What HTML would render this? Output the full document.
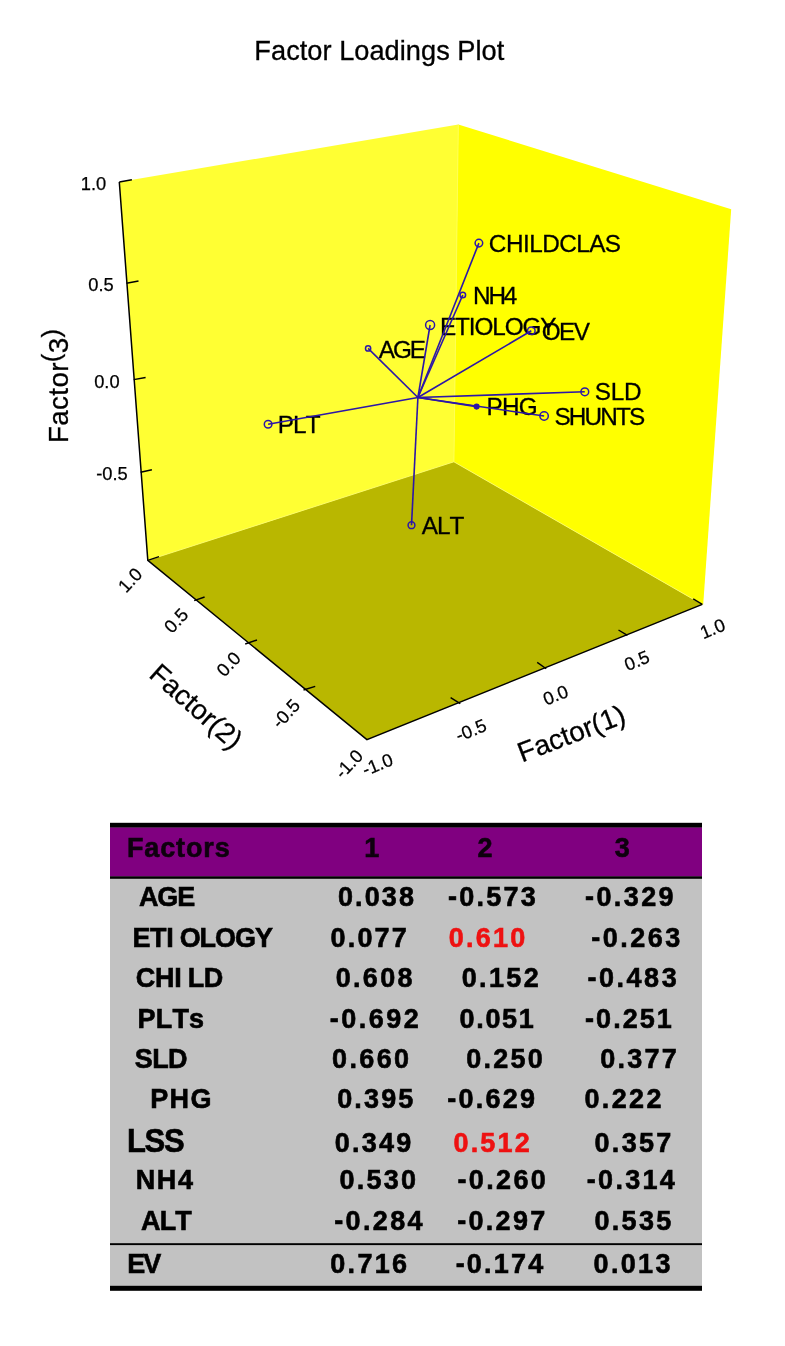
<!DOCTYPE html>
<html lang="en">
<head>
<meta charset="utf-8">
<title>Factor Loadings Plot</title>
<style>
html,body{margin:0;padding:0;background:#fff;}
body{width:785px;height:1346px;overflow:hidden;font-family:"Liberation Sans",Arial,Helvetica,sans-serif;}
svg{display:block;}
svg text{font-family:"Liberation Sans",Arial,Helvetica,sans-serif;font-kerning:none;white-space:pre;}
</style>
</head>
<body>
<svg width="785" height="1346" viewBox="0 0 785 1346">
<rect width="785" height="1346" fill="#fff"/>
<g id="plot" stroke-width="0.3">
<polygon points="119.3,182.0 458.3,124.5 453.9,461.8 147.8,560.3" fill="#ffff33"/>
<polygon points="458.3,124.5 731.2,209.2 703.2,604.6 702.3,604.4 453.9,461.8" fill="#ffff00"/>
<polygon points="147.8,560.3 453.9,461.8 702.3,604.4 366.9,739.7" fill="#b9b700"/>
<path d="M147.8,560.3 L453.9,461.8 L702.3,604.4" fill="none" stroke="#ffff66" stroke-width="0.9"/>
<path d="M458.3,124.5 L453.9,461.8" fill="none" stroke="#ffff55" stroke-width="1"/>
<path d="M119.3,182.0 L147.8,560.3 L366.9,739.7 L702.3,604.4" fill="none" stroke="#000" stroke-width="1.5" stroke-linejoin="miter"/>
<line x1="119.3" y1="182.0" x2="131.9" y2="179.8" stroke="#000" stroke-width="1.4"/>
<line x1="126.5" y1="283.2" x2="138.5" y2="281.0" stroke="#000" stroke-width="1.4"/>
<line x1="133.7" y1="379.6" x2="145.6" y2="377.5" stroke="#000" stroke-width="1.4"/>
<line x1="140.6" y1="472.3" x2="151.9" y2="469.8" stroke="#000" stroke-width="1.4"/>
<line x1="147.8" y1="560.3" x2="159.0" y2="556.7" stroke="#000" stroke-width="1.4"/>
<line x1="194.2" y1="600.6" x2="204.6" y2="597.0" stroke="#000" stroke-width="1.4"/>
<line x1="245.2" y1="644.0" x2="257.0" y2="640.0" stroke="#000" stroke-width="1.4"/>
<line x1="303.5" y1="690.0" x2="315.2" y2="686.3" stroke="#000" stroke-width="1.4"/>
<line x1="460.3" y1="703.7" x2="450.6" y2="697.6" stroke="#000" stroke-width="1.4"/>
<line x1="546.2" y1="668.8" x2="537.2" y2="662.4" stroke="#000" stroke-width="1.4"/>
<line x1="627.4" y1="635.4" x2="618.5" y2="630.0" stroke="#000" stroke-width="1.4"/>
<line x1="702.3" y1="604.4" x2="693.2" y2="598.8" stroke="#000" stroke-width="1.4"/>
<text x="488.87" y="252.10000000000002" font-size="24.3" letter-spacing="-0.52" stroke="#000" stroke-width="0.3">CHILDCLAS</text>
<text x="473.01" y="303.8" font-size="24.3" letter-spacing="-2.15" stroke="#000" stroke-width="0.3">NH4</text>
<text x="440.01" y="334.5" font-size="24.3" letter-spacing="-1.11" stroke="#000" stroke-width="0.3">ETIOLOGY</text>
<text x="541.75" y="339.8" font-size="24.3" letter-spacing="-1.58" stroke="#000" stroke-width="0.3">OEV</text>
<text x="378.85" y="358.1" font-size="24.3" letter-spacing="-2.06" stroke="#000" stroke-width="0.3">AGE</text>
<text x="594.70" y="400.3" font-size="24.3" letter-spacing="-0.20" stroke="#000" stroke-width="0.3">SLD</text>
<text x="486.51" y="415.1" font-size="24.3" letter-spacing="-0.72" stroke="#000" stroke-width="0.3">PHG</text>
<text x="554.40" y="424.5" font-size="24.3" letter-spacing="-1.80" stroke="#000" stroke-width="0.3">SHUNTS</text>
<text x="277.71" y="433.2" font-size="24.3" letter-spacing="-0.81" stroke="#000" stroke-width="0.3">PLT</text>
<text x="421.85" y="534.0999999999999" font-size="24.3" letter-spacing="-1.03" stroke="#000" stroke-width="0.3">ALT</text>
<line x1="417.9" y1="397.5" x2="478.9" y2="243.1" stroke="#2c16a8" stroke-width="1.6"/>
<line x1="417.9" y1="397.5" x2="462.8" y2="295.0" stroke="#2c16a8" stroke-width="1.6"/>
<line x1="417.9" y1="397.5" x2="430.1" y2="325.0" stroke="#2c16a8" stroke-width="1.6"/>
<line x1="417.9" y1="397.5" x2="531.3" y2="330.8" stroke="#2c16a8" stroke-width="1.6"/>
<line x1="417.9" y1="397.5" x2="368.1" y2="348.4" stroke="#2c16a8" stroke-width="1.6"/>
<line x1="417.9" y1="397.5" x2="584.8" y2="391.8" stroke="#2c16a8" stroke-width="1.6"/>
<line x1="417.9" y1="397.5" x2="476.6" y2="406.6" stroke="#2c16a8" stroke-width="1.6"/>
<line x1="417.9" y1="397.5" x2="544.1" y2="416.0" stroke="#2c16a8" stroke-width="1.6"/>
<line x1="417.9" y1="397.5" x2="268.1" y2="424.3" stroke="#2c16a8" stroke-width="1.6"/>
<line x1="417.9" y1="397.5" x2="411.5" y2="525.2" stroke="#2c16a8" stroke-width="1.6"/>
<circle cx="478.9" cy="243.1" r="3.8" fill="none" stroke="#2c16a8" stroke-width="1.5"/>
<circle cx="462.8" cy="295.0" r="2.8" fill="none" stroke="#2c16a8" stroke-width="1.5"/>
<circle cx="430.1" cy="325.0" r="4.5" fill="none" stroke="#2c16a8" stroke-width="1.5"/>
<circle cx="531.3" cy="330.8" r="3.8" fill="none" stroke="#2c16a8" stroke-width="1.5"/>
<circle cx="368.1" cy="348.4" r="2.6" fill="none" stroke="#2c16a8" stroke-width="1.5"/>
<circle cx="584.8" cy="391.8" r="3.9" fill="none" stroke="#2c16a8" stroke-width="1.5"/>
<circle cx="476.6" cy="406.6" r="2.3" fill="#2c16a8" stroke="#2c16a8" stroke-width="1.5"/>
<circle cx="544.1" cy="416.0" r="4.2" fill="none" stroke="#2c16a8" stroke-width="1.5"/>
<circle cx="268.1" cy="424.3" r="3.8" fill="none" stroke="#2c16a8" stroke-width="1.5"/>
<circle cx="411.5" cy="525.2" r="3.4" fill="none" stroke="#2c16a8" stroke-width="1.5"/>
<text x="254.37" y="59.8" font-size="27.2" letter-spacing="0.03" stroke="#000">Factor Loadings Plot</text>
<text x="80.78" y="189.6" font-size="18.3" stroke="#000" stroke-width="0.25">1.0</text>
<text x="88.33" y="290.8" font-size="18.3" stroke="#000" stroke-width="0.25">0.5</text>
<text x="94.18" y="387.8" font-size="18.3" stroke="#000" stroke-width="0.25">0.0</text>
<text x="96.23" y="480.0" font-size="18.3" stroke="#000" stroke-width="0.25">-0.5</text>
<text x="130.0" y="586.55" font-size="18.3" stroke="#000" stroke-width="0.25" text-anchor="middle" transform="rotate(-47 130.0 580.0)">1.0</text>
<text x="176.0" y="627.05" font-size="18.3" stroke="#000" stroke-width="0.25" text-anchor="middle" transform="rotate(-47 176.0 620.5)">0.5</text>
<text x="228.5" y="670.55" font-size="18.3" stroke="#000" stroke-width="0.25" text-anchor="middle" transform="rotate(-47 228.5 664.0)">0.0</text>
<text x="285.7" y="719.95" font-size="18.3" stroke="#000" stroke-width="0.25" text-anchor="middle" transform="rotate(-47 285.7 713.4)">-0.5</text>
<text x="348.6" y="770.35" font-size="18.3" stroke="#000" stroke-width="0.25" text-anchor="middle" transform="rotate(-47 348.6 763.8)">-1.0</text>
<text x="377.4" y="770.85" font-size="18.3" stroke="#000" stroke-width="0.25" text-anchor="middle" transform="rotate(-22 377.4 764.3)">-1.0</text>
<text x="471.0" y="736.55" font-size="18.3" stroke="#000" stroke-width="0.25" text-anchor="middle" transform="rotate(-22 471.0 730.0)">-0.5</text>
<text x="555.5" y="701.35" font-size="18.3" stroke="#000" stroke-width="0.25" text-anchor="middle" transform="rotate(-22 555.5 694.8)">0.0</text>
<text x="636.8" y="666.95" font-size="18.3" stroke="#000" stroke-width="0.25" text-anchor="middle" transform="rotate(-22 636.8 660.4)">0.5</text>
<text x="712.5" y="634.95" font-size="18.3" stroke="#000" stroke-width="0.25" text-anchor="middle" transform="rotate(-22 712.5 628.4)">1.0</text>
<text x="65.72" y="440.8" font-size="27.8" letter-spacing="0.35" stroke="#000" transform="rotate(-90 68.0 440.8)">Factor<tspan dy="-8" font-size="25.5">(</tspan><tspan dy="8">3</tspan><tspan dy="-8" font-size="25.5">)</tspan></text>
<text x="147.12" y="677.7" font-size="27.8" stroke="#000" transform="rotate(41.5 149.4 677.7)">Factor(2)</text>
<text x="521.92" y="761.8" font-size="27.8" stroke="#000" transform="rotate(-21 524.2 761.8)">Factor(1)</text>
</g>
<g id="table">
<rect x="110.0" y="822.8" width="592.0" height="5" fill="#000"/>
<rect x="110.0" y="827.6" width="592.0" height="49" fill="#800080"/>
<rect x="110.0" y="876.3" width="592.0" height="2.6" fill="#000"/>
<rect x="110.0" y="878.9" width="592.0" height="407.2" fill="#c2c2c2"/>
<rect x="110.0" y="1243.2" width="592.0" height="1.9" fill="#000"/>
<rect x="110.0" y="1285.8" width="592.0" height="5" fill="#000"/>
<text x="126.89" y="0" transform="matrix(1 0 0 1.045 0 857.3)" font-size="27.0" font-weight="bold" fill="#0e000e" stroke="#0e000e" stroke-width="0.6" letter-spacing="0.88">Factors</text>
<text x="364.20" y="0" transform="matrix(1 0 0 1.045 0 857.2)" font-size="27.0" font-weight="bold" fill="#0e000e" stroke="#0e000e" stroke-width="0.6" letter-spacing="0.00">1</text>
<text x="477.46" y="0" transform="matrix(1 0 0 1.045 0 857.2)" font-size="27.0" font-weight="bold" fill="#0e000e" stroke="#0e000e" stroke-width="0.6" letter-spacing="0.00">2</text>
<text x="614.78" y="0" transform="matrix(1 0 0 1.045 0 857.2)" font-size="27.0" font-weight="bold" fill="#0e000e" stroke="#0e000e" stroke-width="0.6" letter-spacing="0.00">3</text>
<text x="139.13" y="0" transform="matrix(1 0 0 1.045 0 906.0)" font-size="27.0" font-weight="bold" fill="#000" stroke="#000" stroke-width="0.6" letter-spacing="-1.24">AGE</text>
<text x="337.93" y="0" transform="matrix(1 0 0 1.045 0 906.0)" font-size="27.0" font-weight="bold" fill="#000" stroke="#000" stroke-width="0.6" letter-spacing="2.13">0.038</text>
<text x="447.95" y="0" transform="matrix(1 0 0 1.045 0 906.0)" font-size="27.0" font-weight="bold" fill="#000" stroke="#000" stroke-width="0.6" letter-spacing="2.27">-0.573</text>
<text x="585.05" y="0" transform="matrix(1 0 0 1.045 0 906.0)" font-size="27.0" font-weight="bold" fill="#000" stroke="#000" stroke-width="0.6" letter-spacing="2.40">-0.329</text>
<text x="330.53" y="0" transform="matrix(1 0 0 1.045 0 946.6)" font-size="27.0" font-weight="bold" fill="#000" stroke="#000" stroke-width="0.6" letter-spacing="2.17">0.077</text>
<text x="448.83" y="0" transform="matrix(1 0 0 1.045 0 946.6)" font-size="27.0" font-weight="bold" fill="#ee1111" stroke="#ee1111" stroke-width="0.6" letter-spacing="2.23">0.610</text>
<text x="591.15" y="0" transform="matrix(1 0 0 1.045 0 946.6)" font-size="27.0" font-weight="bold" fill="#000" stroke="#000" stroke-width="0.6" letter-spacing="2.51">-0.263</text>
<text x="335.73" y="0" transform="matrix(1 0 0 1.045 0 987.0)" font-size="27.0" font-weight="bold" fill="#000" stroke="#000" stroke-width="0.6" letter-spacing="2.31">0.608</text>
<text x="461.73" y="0" transform="matrix(1 0 0 1.045 0 987.0)" font-size="27.0" font-weight="bold" fill="#000" stroke="#000" stroke-width="0.6" letter-spacing="2.37">0.152</text>
<text x="587.45" y="0" transform="matrix(1 0 0 1.045 0 987.0)" font-size="27.0" font-weight="bold" fill="#000" stroke="#000" stroke-width="0.6" letter-spacing="2.53">-0.483</text>
<text x="137.49" y="0" transform="matrix(1 0 0 1.045 0 1027.6)" font-size="27.0" font-weight="bold" fill="#000" stroke="#000" stroke-width="0.6" letter-spacing="0.20">PLTs</text>
<text x="329.65" y="0" transform="matrix(1 0 0 1.045 0 1027.6)" font-size="27.0" font-weight="bold" fill="#000" stroke="#000" stroke-width="0.6" letter-spacing="2.54">-0.692</text>
<text x="459.53" y="0" transform="matrix(1 0 0 1.045 0 1027.6)" font-size="27.0" font-weight="bold" fill="#000" stroke="#000" stroke-width="0.6" letter-spacing="1.69">0.051</text>
<text x="585.05" y="0" transform="matrix(1 0 0 1.045 0 1027.6)" font-size="27.0" font-weight="bold" fill="#000" stroke="#000" stroke-width="0.6" letter-spacing="2.05">-0.251</text>
<text x="134.72" y="0" transform="matrix(1 0 0 1.045 0 1068.4)" font-size="27.0" font-weight="bold" fill="#000" stroke="#000" stroke-width="0.6" letter-spacing="-0.59">SLD</text>
<text x="332.03" y="0" transform="matrix(1 0 0 1.045 0 1068.4)" font-size="27.0" font-weight="bold" fill="#000" stroke="#000" stroke-width="0.6" letter-spacing="2.38">0.660</text>
<text x="466.33" y="0" transform="matrix(1 0 0 1.045 0 1068.4)" font-size="27.0" font-weight="bold" fill="#000" stroke="#000" stroke-width="0.6" letter-spacing="2.20">0.250</text>
<text x="600.33" y="0" transform="matrix(1 0 0 1.045 0 1068.4)" font-size="27.0" font-weight="bold" fill="#000" stroke="#000" stroke-width="0.6" letter-spacing="2.25">0.377</text>
<text x="150.19" y="0" transform="matrix(1 0 0 1.045 0 1108.2)" font-size="27.0" font-weight="bold" fill="#000" stroke="#000" stroke-width="0.6" letter-spacing="1.44">PHG</text>
<text x="337.23" y="0" transform="matrix(1 0 0 1.045 0 1108.2)" font-size="27.0" font-weight="bold" fill="#000" stroke="#000" stroke-width="0.6" letter-spacing="2.14">0.395</text>
<text x="447.35" y="0" transform="matrix(1 0 0 1.045 0 1108.2)" font-size="27.0" font-weight="bold" fill="#000" stroke="#000" stroke-width="0.6" letter-spacing="2.22">-0.629</text>
<text x="584.43" y="0" transform="matrix(1 0 0 1.045 0 1108.2)" font-size="27.0" font-weight="bold" fill="#000" stroke="#000" stroke-width="0.6" letter-spacing="2.37">0.222</text>
<text x="127.03" y="0" transform="matrix(1 0 0 1.045 0 1151.8)" font-size="31.0" font-weight="bold" fill="#000" stroke="#000" stroke-width="0.6" letter-spacing="-1.35">LSS</text>
<text x="334.83" y="0" transform="matrix(1 0 0 1.045 0 1151.8)" font-size="27.0" font-weight="bold" fill="#000" stroke="#000" stroke-width="0.6" letter-spacing="2.20">0.349</text>
<text x="453.43" y="0" transform="matrix(1 0 0 1.045 0 1151.8)" font-size="27.0" font-weight="bold" fill="#ee1111" stroke="#ee1111" stroke-width="0.6" letter-spacing="2.22">0.512</text>
<text x="594.53" y="0" transform="matrix(1 0 0 1.045 0 1151.8)" font-size="27.0" font-weight="bold" fill="#000" stroke="#000" stroke-width="0.6" letter-spacing="2.32">0.357</text>
<text x="135.69" y="0" transform="matrix(1 0 0 1.045 0 1189.2)" font-size="27.0" font-weight="bold" fill="#000" stroke="#000" stroke-width="0.6" letter-spacing="1.62">NH4</text>
<text x="339.43" y="0" transform="matrix(1 0 0 1.045 0 1189.2)" font-size="27.0" font-weight="bold" fill="#000" stroke="#000" stroke-width="0.6" letter-spacing="2.23">0.530</text>
<text x="457.45" y="0" transform="matrix(1 0 0 1.045 0 1189.2)" font-size="27.0" font-weight="bold" fill="#000" stroke="#000" stroke-width="0.6" letter-spacing="2.36">-0.260</text>
<text x="586.85" y="0" transform="matrix(1 0 0 1.045 0 1189.2)" font-size="27.0" font-weight="bold" fill="#000" stroke="#000" stroke-width="0.6" letter-spacing="2.29">-0.314</text>
<text x="141.13" y="0" transform="matrix(1 0 0 1.045 0 1229.7)" font-size="27.0" font-weight="bold" fill="#000" stroke="#000" stroke-width="0.6" letter-spacing="-0.91">ALT</text>
<text x="334.25" y="0" transform="matrix(1 0 0 1.045 0 1229.7)" font-size="27.0" font-weight="bold" fill="#000" stroke="#000" stroke-width="0.6" letter-spacing="2.35">-0.284</text>
<text x="457.15" y="0" transform="matrix(1 0 0 1.045 0 1229.7)" font-size="27.0" font-weight="bold" fill="#000" stroke="#000" stroke-width="0.6" letter-spacing="2.32">-0.297</text>
<text x="594.53" y="0" transform="matrix(1 0 0 1.045 0 1229.7)" font-size="27.0" font-weight="bold" fill="#000" stroke="#000" stroke-width="0.6" letter-spacing="2.29">0.535</text>
<text x="127.29" y="0" transform="matrix(1 0 0 1.045 0 1272.5)" font-size="27.0" font-weight="bold" fill="#000" stroke="#000" stroke-width="0.6" letter-spacing="-2.13">EV</text>
<text x="330.23" y="0" transform="matrix(1 0 0 1.045 0 1272.5)" font-size="27.0" font-weight="bold" fill="#000" stroke="#000" stroke-width="0.6" letter-spacing="2.34">0.716</text>
<text x="455.65" y="0" transform="matrix(1 0 0 1.045 0 1272.5)" font-size="27.0" font-weight="bold" fill="#000" stroke="#000" stroke-width="0.6" letter-spacing="2.23">-0.174</text>
<text x="593.53" y="0" transform="matrix(1 0 0 1.045 0 1272.5)" font-size="27.0" font-weight="bold" fill="#000" stroke="#000" stroke-width="0.6" letter-spacing="2.34">0.013</text>
<text x="132.39" y="0" transform="matrix(1 0 0 1.045 0 946.8)" font-size="27.0" font-weight="bold" fill="#000" stroke="#000" stroke-width="0.6"><tspan letter-spacing="-0.35">ETI</tspan><tspan x="179.69" letter-spacing="-1.07">OLOGY</tspan></text>
<text x="135.69" y="0" transform="matrix(1 0 0 1.045 0 986.6)" font-size="27.0" font-weight="bold" fill="#000" stroke="#000" stroke-width="0.6"><tspan letter-spacing="-0.19">CHI</tspan><tspan x="187.69" letter-spacing="-0.45">LD</tspan></text>
</g>
</svg>
</body>
</html>
